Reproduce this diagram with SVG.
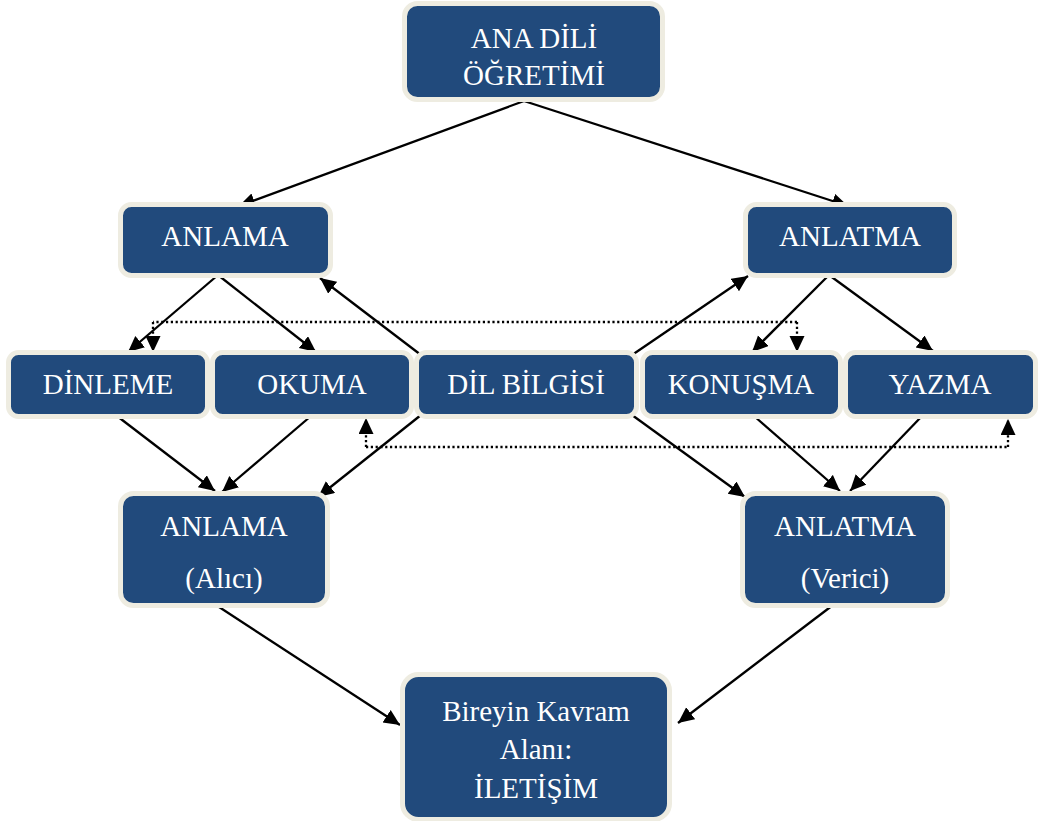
<svg xmlns="http://www.w3.org/2000/svg" width="1040" height="821" viewBox="0 0 1040 821">
<style>
.box{fill:#214a7c;stroke:#eeece1;stroke-width:5}
.t{font-family:"Liberation Serif","Times New Roman",serif;font-size:29px;fill:#ffffff;text-anchor:middle}
.c{stroke:#000;stroke-width:2.3;fill:none;marker-end:url(#ah)}
.d{stroke:#000;stroke-width:2.3;fill:none;stroke-dasharray:2.2,2.6;marker-end:url(#ah)}
</style>
<defs>
<marker id="ah" markerUnits="userSpaceOnUse" markerWidth="18" markerHeight="16" refX="16" refY="7.5" orient="auto">
<path d="M0,0 L16,7.5 L0,15 z" fill="#000"/>
</marker>
</defs>
<rect width="1040" height="821" fill="#fff"/>
<g id="connectors">
<line class="c" x1="524" y1="101" x2="239" y2="206"/>
<line class="c" x1="524" y1="101" x2="848" y2="206"/>
<line class="c" x1="218" y1="275" x2="128" y2="352"/>
<line class="c" x1="218" y1="275" x2="316" y2="352"/>
<line class="c" x1="829" y1="275" x2="752" y2="352"/>
<line class="c" x1="829" y1="275" x2="933" y2="351"/>
<line class="c" x1="421" y1="355" x2="320" y2="278"/>
<line class="c" x1="632" y1="355" x2="748" y2="276"/>
<line class="c" x1="421" y1="415" x2="318" y2="497"/>
<line class="c" x1="632" y1="415" x2="745" y2="497"/>
<line class="c" x1="117" y1="416" x2="215" y2="491"/>
<line class="c" x1="311" y1="416" x2="222" y2="492"/>
<line class="c" x1="754" y1="416" x2="840" y2="491"/>
<line class="c" x1="922" y1="416" x2="850" y2="491"/>
<line class="c" x1="216" y1="605" x2="400" y2="725"/>
<line class="c" x1="833" y1="605" x2="678" y2="723"/>
<polyline class="d" points="797,322 153,322" style="marker-end:none"/>
<polyline class="d" points="153,322 153,352"/>
<polyline class="d" points="797,322 797,352"/>
<polyline class="d" points="366,447 1008,447" style="marker-end:none"/>
<polyline class="d" points="366,447 366,418"/>
<polyline class="d" points="1008,447 1008,419"/>
</g>
<g id="n-anadili"><rect class="box" x="404.5" y="3.5" width="258" height="96" rx="13"/><text class="t" x="534" y="48">ANA DİLİ</text><text class="t" x="534" y="85">ÖĞRETİMİ</text></g>
<g id="n-anlama1"><rect class="box" x="120.5" y="204.5" width="210" height="71" rx="11"/><text class="t" x="225" y="246">ANLAMA</text></g>
<g id="n-anlatma1"><rect class="box" x="745.5" y="204.5" width="209" height="71" rx="11"/><text class="t" x="850" y="246">ANLATMA</text></g>
<g id="n-dinleme"><rect class="box" x="8.5" y="352.5" width="199" height="64" rx="10"/><text class="t" x="108" y="394">DİNLEME</text></g>
<g id="n-okuma"><rect class="box" x="212.5" y="352.5" width="199" height="64" rx="10"/><text class="t" x="312" y="394">OKUMA</text></g>
<g id="n-dilbilgisi"><rect class="box" x="416.5" y="352.5" width="220" height="64" rx="10"/><text class="t" x="526" y="394">DİL BİLGİSİ</text></g>
<g id="n-konusma"><rect class="box" x="642.5" y="352.5" width="198" height="64" rx="10"/><text class="t" x="741" y="394">KONUŞMA</text></g>
<g id="n-yazma"><rect class="box" x="845.5" y="352.5" width="190" height="64" rx="10"/><text class="t" x="940" y="394">YAZMA</text></g>
<g id="n-alici"><rect class="box" x="120.5" y="493.5" width="207" height="112" rx="13"/><text class="t" x="224" y="536">ANLAMA</text><text class="t" x="224" y="588">(Alıcı)</text></g>
<g id="n-verici"><rect class="box" x="742.5" y="493.5" width="205" height="112" rx="13"/><text class="t" x="845" y="536">ANLATMA</text><text class="t" x="845" y="588">(Verici)</text></g>
<g id="n-iletisim"><rect class="box" x="402.5" y="674.5" width="267" height="145" rx="16"/><text class="t" x="536" y="721">Bireyin Kavram</text><text class="t" x="536" y="759">Alanı:</text><text class="t" x="536" y="798">İLETİŞİM</text></g>
</svg>
